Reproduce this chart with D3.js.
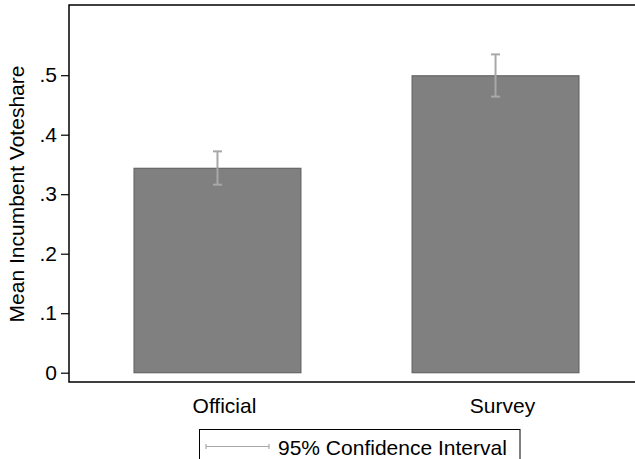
<!DOCTYPE html>
<html>
<head>
<meta charset="utf-8">
<script src="https://cdn.jsdelivr.net/npm/d3@7"></script>
<style>
  body { margin: 0; background: #fff; }
  text { font-family: Arial, "Liberation Sans", sans-serif; fill: #000; }
</style>
</head>
<body>
<div id="graphic"></div>
<script>
// data
var categories = ["Official", "Survey"];
var means = [0.3435, 0.499];
var ciLow = [0.316, 0.464];
var ciHigh = [0.372, 0.535];
var yTicks = [0, 0.1, 0.2, 0.3, 0.4, 0.5];
var yTickLabels = ["0", ".1", ".2", ".3", ".4", ".5"];

var width = 635, height = 459;
var plot = { left: 69, right: 644, top: 5, bottom: 382 };

var svg = d3.select('#graphic').append('svg')
  .attr('width', width)
  .attr('height', height);

var x = d3.scaleBand()
  .domain(categories)
  .range([plot.left, plot.right])
  .paddingInner(0.4)
  .paddingOuter(0.234);

var y = d3.scaleLinear()
  .domain([0, 0.5])
  .range([372.7, 75.2]);

var data = categories.map(function(c, i) {
  return { name: c, mean: means[i], lo: ciLow[i], hi: ciHigh[i] };
});

// bars
svg.selectAll('rect.bar')
  .data(data)
  .join('rect')
  .attr('class', 'bar')
  .attr('x', d => x(d.name))
  .attr('width', x.bandwidth())
  .attr('y', d => y(d.mean))
  .attr('height', d => y(0) - y(d.mean))
  .attr('fill', '#808080')
  .attr('stroke', '#656565')
  .attr('stroke-width', 1.2);

// confidence intervals
var ci = svg.selectAll('g.ci')
  .data(data)
  .join('g')
  .attr('class', 'ci')
  .attr('stroke', '#a8a8a8')
  .attr('stroke-width', 2);

ci.append('line')
  .attr('x1', d => x(d.name) + x.bandwidth() / 2)
  .attr('x2', d => x(d.name) + x.bandwidth() / 2)
  .attr('y1', d => y(d.lo))
  .attr('y2', d => y(d.hi));

ci.append('line')
  .attr('x1', d => x(d.name) + x.bandwidth() / 2 - 4.5)
  .attr('x2', d => x(d.name) + x.bandwidth() / 2 + 4.5)
  .attr('y1', d => y(d.hi))
  .attr('y2', d => y(d.hi));

ci.append('line')
  .attr('x1', d => x(d.name) + x.bandwidth() / 2 - 4.5)
  .attr('x2', d => x(d.name) + x.bandwidth() / 2 + 4.5)
  .attr('y1', d => y(d.lo))
  .attr('y2', d => y(d.lo));

// frame: left, top, bottom
svg.append('path')
  .attr('d', 'M' + plot.right + ',' + plot.top + 'H' + plot.left + 'V' + plot.bottom + 'H' + plot.right)
  .attr('fill', 'none')
  .attr('stroke', '#000')
  .attr('stroke-width', 1.5);

// y axis
var yAxis = d3.axisLeft(y)
  .tickValues(yTicks)
  .tickFormat((d, i) => yTickLabels[i])
  .tickSize(8)
  .tickPadding(4);

var gy = svg.append('g')
  .attr('transform', 'translate(' + plot.left + ',0)')
  .call(yAxis);
gy.select('.domain').remove();
gy.selectAll('line').attr('stroke', '#000').attr('stroke-width', 1.2);
gy.selectAll('text')
  .attr('font-size', 21)
  .attr('font-family', 'Arial, "Liberation Sans", sans-serif')
  .attr('fill', '#000');

// y title
svg.append('text')
  .attr('transform', 'translate(24,194) rotate(-90)')
  .attr('text-anchor', 'middle')
  .attr('font-size', 21)
  .text('Mean Incumbent Voteshare');

// category labels
svg.selectAll('text.cat')
  .data(categories)
  .join('text')
  .attr('class', 'cat')
  .attr('x', d => x(d) + x.bandwidth() / 2 + 7)
  .attr('y', 413)
  .attr('text-anchor', 'middle')
  .attr('font-size', 21)
  .text(d => d);

// legend
var legend = svg.append('g');
legend.append('rect')
  .attr('x', 199.5)
  .attr('y', 429.5)
  .attr('width', 320.5)
  .attr('height', 40)
  .attr('fill', '#fff')
  .attr('stroke', '#000')
  .attr('stroke-width', 1);
legend.append('path')
  .attr('d', 'M206,446.5H269M206,444V449M269,444V449')
  .attr('fill', 'none')
  .attr('stroke', '#a8a8a8')
  .attr('stroke-width', 1.2);
legend.append('text')
  .attr('x', 278)
  .attr('y', 455)
  .attr('font-size', 21)
  .text('95% Confidence Interval');
</script>
</body>
</html>
